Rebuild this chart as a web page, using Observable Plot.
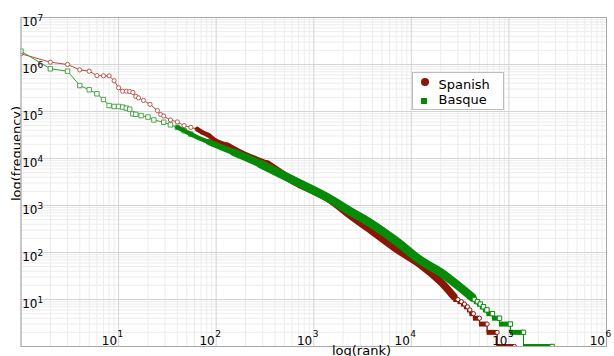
<!DOCTYPE html>
<html>
<head>
<meta charset="utf-8">
<script src="https://cdn.jsdelivr.net/npm/d3@7"></script>
<script src="https://cdn.jsdelivr.net/npm/@observablehq/plot@0.6"></script>
<style>
html,body{margin:0;padding:0;background:#fff;overflow:hidden;}
#chart{position:relative;width:614px;height:356px;overflow:hidden;font-family:"DejaVu Sans",sans-serif;}
#chart svg{position:absolute;left:0;top:0;}
.legend{position:absolute;left:412px;top:72px;width:92px;height:38px;box-sizing:border-box;border:1px solid #bdbdbd;background:#fff;}
.legend .item{position:absolute;left:25.5px;font-size:13px;line-height:13px;color:#000;white-space:nowrap;}
.legend .sw{position:absolute;}
</style>
</head>
<body>
<div id="chart"></div>
<script>
// ---- data (rank, frequency) ----
const seriesNames = ["Spanish", "Basque"];

const spanishRank = [1,2,3,4,5,6,7,8,9,10,11,12,13,14,15,16,18,21,25,27,29,34,40,47,55,64,72,84,100,130,170,224,333,624,1371,2375,3524,6870,12400,19900,27200];
const spanishFreq = [1.69e6,1.12e6,1.0e6,7.7e5,7.2e5,5.8e5,5.75e5,5.75e5,4.5e5,3.2e5,2.7e5,2.7e5,2.65e5,2.55e5,2.1e5,1.95e5,1.72e5,1.42e5,1.05e5,8.6e4,8.0e4,6.6e4,6.0e4,5.0e4,4.6e4,4.2e4,3.6e4,3.1e4,2.35e4,1.9e4,1.4e4,1.07e4,7.7e3,3.3e3,1450,613,340,122,55,24,11.6];
const spanishStepFreq = [10,9,8,7,6,5,4,3,2,1];
const spanishStepEnd  = [30000,32600,35000,37600,39800,43300,49900,59800,75700,114000];

const basqueRank = [1,2,3,4,5,6,7,8,9,10,11,12,13,14,15,17,20,23,29,34,40,47,55,69,84,102,151,284,624,1371,2375,3524,6870,12400,19900,42000];
const basqueFreq = [1.92e6,8.1e5,7.2e5,3.57e5,2.9e5,2.38e5,1.8e5,1.34e5,1.28e5,1.28e5,1.24e5,1.18e5,1.12e5,8.9e4,8.7e4,8.2e4,7.6e4,6.6e4,5.9e4,5.2e4,4.6e4,3.9e4,3.3e4,2.63e4,2.25e4,1.89e4,1.36e4,7.7e3,3.4e3,1500,745,468,180,68,38,11.2];
const basqueStepFreq = [10,9,8,7,6,5,4,3,2,1];
const basqueStepEnd  = [44300,47600,51000,54800,59500,67800,80000,103500,141000,277000];

const xTickExp = [1,2,3,4,5,6];
const yTickExp = [1,2,3,4,5,6,7];
const xLabel = "log(rank)";
const yLabel = "log(frequency)";

// ---- styling ----
const FONT = "DejaVu Sans";
const RED = "#8a1606", RED_L = "#b24a3c";
const GREEN = "#078a07", GREEN_L = "#3a9e3a";

function build(name, ranks, freqs, stepF, stepEnd) {
  const pts = ranks.map((r, i) => ({name, rank: r, freq: freqs[i]}));
  let start = ranks[ranks.length - 1];
  const steps = stepF.map((f, i) => { const s = {name, f, start, end: stepEnd[i]}; start = stepEnd[i]; return s; });
  const path = pts.concat(steps.flatMap(s => [{rank: s.start, freq: s.f}, {rank: s.end, freq: s.f}]));
  return {pts, steps, path};
}
const SP = build(seriesNames[0], spanishRank, spanishFreq, spanishStepFreq, spanishStepEnd);
const BQ = build(seriesNames[1], basqueRank, basqueFreq, basqueStepFreq, basqueStepEnd);

function seriesMarks(S, color, light, symbol, r, dotMax, bands) {
  const m = [];
  m.push(Plot.line(S.path, {x: "rank", y: "freq", stroke: light, strokeWidth: 1, clip: true}));
  m.push(Plot.dot(S.pts.filter(d => d.rank <= dotMax), {x: "rank", y: "freq", symbol, r, stroke: light, fill: "white", strokeWidth: 0.9, clip: true}));
  for (const [minRank, w] of bands) {
    m.push(Plot.line(S.pts.filter(d => d.rank >= minRank), {x: "rank", y: "freq", stroke: color, strokeWidth: w, curve: "catmull-rom", strokeLinejoin: "round", strokeLinecap: "round", clip: true}));
  }
  m.push(Plot.ruleY(S.steps, {y: "f", x1: "start", x2: "end", stroke: color, strokeWidth: 5, clip: true}));
  m.push(Plot.line(S.path.filter(d => d.rank >= S.steps[0].start), {x: "rank", y: "freq", stroke: color, strokeWidth: 1, clip: true}));
  m.push(Plot.dot(S.steps, {x: "end", y: "f", symbol, r: r, stroke: color, fill: "white", strokeWidth: 1, clip: true}));
  return m;
}

function minor(lo, hi) { const out = []; for (let e = lo; e < hi; e++) for (let k = 2; k <= 9; k++) out.push(k * 10 ** e); return out; }
const xMajor = d3.range(0, 7).map(e => 10 ** e);
const yMajor = d3.range(0, 8).map(e => 10 ** e);

const chart = Plot.plot({
  width: 614, height: 356,
  marginLeft: 20.5, marginRight: 8, marginTop: 17, marginBottom: 10,
  style: {fontFamily: FONT, background: "white", overflow: "visible", color: "black"},
  x: {type: "log", domain: [1, 1e6], axis: null},
  y: {type: "log", domain: [1, 1e7], axis: null},
  marks: [
    Plot.text([yLabel], {frameAnchor: "left", textAnchor: "middle", rotate: -90, dx: -4.2, dy: -28.5, fontSize: 13, fill: "black"}),
    Plot.frame({fill: "white", stroke: null}),
    Plot.ruleX(minor(0, 6), {stroke: "#ececec"}),
    Plot.ruleY(minor(0, 7), {stroke: "#ececec"}),
    Plot.ruleX(xMajor, {stroke: "#d4d4d4"}),
    Plot.ruleY(yMajor, {stroke: "#d4d4d4"}),
    ...seriesMarks(SP, RED, RED_L, "circle", 2.1, 100, [[64, 4.5], [130, 6], [333, 7.5]]),
    ...seriesMarks(BQ, GREEN, GREEN_L, "square", 2.5, 60, [[40, 4.5], [84, 6], [151, 7.5], [284, 8.5]]),
    Plot.frame({stroke: "#a8a8a8"}),
    // y tick labels
    Plot.text(yTickExp, {x: 1, y: e => 10 ** e, text: () => "10", textAnchor: "start", dx: 1.2, dy: 4.66, fontSize: 12, fill: "black"}),
    Plot.text(yTickExp, {x: 1, y: e => 10 ** e, text: e => String(e), textAnchor: "start", dx: 16.5, dy: 0.4, fontSize: 9, fill: "black"}),
    // x tick labels
    Plot.text(xTickExp, {x: e => 10 ** e, y: 1, text: () => "10", textAnchor: "end", dx: -1.5, dy: -5.3, fontSize: 12, fill: "black"}),
    Plot.text(xTickExp, {x: e => 10 ** e, y: 1, text: e => String(e), textAnchor: "start", dx: -1, dy: -11.9, fontSize: 9, fill: "black"}),
    Plot.text([xLabel], {frameAnchor: "bottom", dx: 47.75, dy: 8, fontSize: 13, fill: "black"})
  ]
});

const root = document.getElementById("chart");
root.appendChild(chart);

// legend
const legend = document.createElement("div");
legend.className = "legend";
const legendItems = [
  {name: seriesNames[0], color: RED, shape: "circle", top: 4.7, sw: {left: 7.5, top: 5.2, size: 8}},
  {name: seriesNames[1], color: GREEN, shape: "square", top: 19.7, sw: {left: 8.2, top: 25.3, size: 6}}
];
for (const it of legendItems) {
  const sw = document.createElement("div");
  sw.className = "sw";
  sw.style.left = it.sw.left + "px";
  sw.style.top = it.sw.top + "px";
  sw.style.width = it.sw.size + "px";
  sw.style.height = it.sw.size + "px";
  sw.style.background = it.color;
  if (it.shape === "circle") sw.style.borderRadius = "50%";
  legend.appendChild(sw);
  const t = document.createElement("div");
  t.className = "item";
  t.style.top = it.top + "px";
  t.textContent = it.name;
  legend.appendChild(t);
}
root.appendChild(legend);
</script>
</body>
</html>
